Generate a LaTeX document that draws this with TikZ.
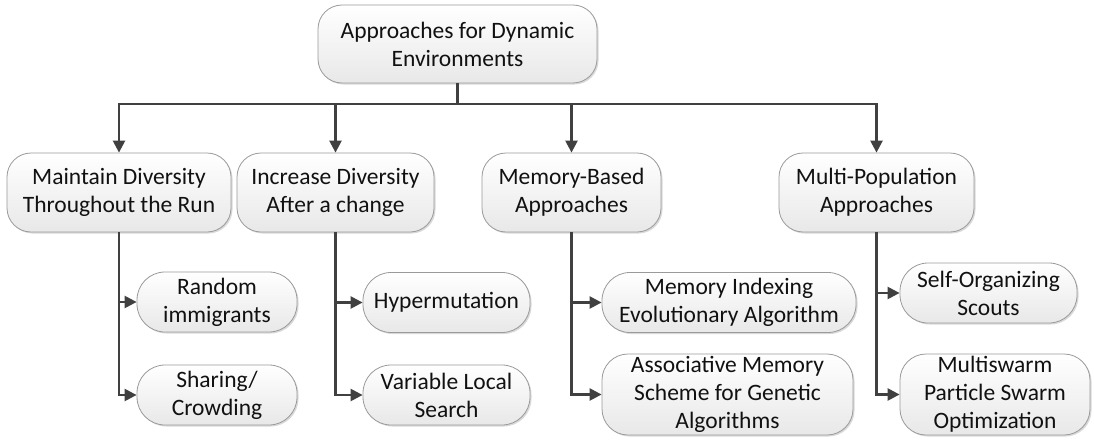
\documentclass[tikz,border=0pt]{standalone}
\usepackage{fontspec}
\setmainfont{Carlito}
\usetikzlibrary{arrows.meta,shadows}
\definecolor{edgegray}{HTML}{9A9A9A}
\definecolor{linegray}{HTML}{404040}
\definecolor{txt}{HTML}{111111}
\definecolor{boxbot}{HTML}{E8E8E8}
\tikzset{
  box/.style={draw=edgegray, line width=0.8pt, rounded corners=24pt,
    top color=white, bottom color=boxbot, text=txt, align=center,
    inner sep=0pt, font=\fontsize{23.5pt}{28pt}\selectfont,
    drop shadow={shadow xshift=1.5pt, shadow yshift=-1.5pt, opacity=0.25, fill=black!60}},
  conn/.style={draw=linegray, line width=2.4pt},
  arr/.style={conn, -{Triangle[length=12pt,width=12pt]}},
}
\begin{document}
\begin{tikzpicture}[x=1pt,y=-1pt]
\useasboundingbox (0,0) rectangle (1094,439);
\node[box, minimum width=279pt, minimum height=78pt] (root) at (457.5,44) {Approaches for Dynamic\\Environments};
\node[box, minimum width=224pt, minimum height=79pt] (b1) at (119,192.5) {Maintain Diversity\\Throughout the Run};
\node[box, minimum width=197pt, minimum height=79pt] (b2) at (335.5,192.5) {Increase Diversity\\After a change};
\node[box, minimum width=179pt, minimum height=79pt] (b3) at (571.5,192.5) {Memory-Based\\Approaches};
\node[box, minimum width=195pt, minimum height=79pt] (b4) at (876.5,192.5) {Multi-Population\\Approaches};
\node[box, rounded corners=28pt, minimum width=160pt, minimum height=60pt] (c11) at (217,302) {Random\\immigrants};
\node[box, rounded corners=28pt, minimum width=160pt, minimum height=60pt] (c12) at (217,395) {Sharing/\\Crowding};
\node[box, rounded corners=28pt, minimum width=167pt, minimum height=60pt] (c21) at (446.5,302.5) {Hypermutation};
\node[box, rounded corners=28pt, minimum width=167pt, minimum height=60pt] (c22) at (446.5,395) {Variable Local\\Search};
\node[box, rounded corners=28pt, minimum width=254pt, minimum height=60pt] (c31) at (729,302.5) {Memory Indexing\\Evolutionary Algorithm};
\node[box, rounded corners=26pt, minimum width=251pt, minimum height=81pt] (c32) at (727.5,394.5) {Associative Memory\\Scheme for Genetic\\Algorithms};
\node[box, rounded corners=28pt, minimum width=177pt, minimum height=60pt] (c41) at (988.5,293) {Self-Organizing\\Scouts};
\node[box, rounded corners=26pt, minimum width=190pt, minimum height=81pt] (c42) at (995,394.5) {Multiswarm\\Particle Swarm\\Optimization};
\coordinate (j) at (457.5,104);
\draw[conn] (root.south) -- (j);
\draw[arr] (j) -| (b1.north);
\draw[arr] (j) -| (b2.north);
\draw[arr] (j) -| (b3.north);
\draw[arr] (j) -| (b4.north);
\draw[arr] (b1.south) |- (c11.west);
\draw[arr] (b1.south) |- (c12.west);
\draw[arr] (b2.south) |- (c21.west);
\draw[arr] (b2.south) |- (c22.west);
\draw[arr] (b3.south) |- (c31.west);
\draw[arr] (b3.south) |- (c32.west);
\draw[arr] (b4.south) |- (c41.west);
\draw[arr] (b4.south) |- (c42.west);
\end{tikzpicture}
\end{document}
